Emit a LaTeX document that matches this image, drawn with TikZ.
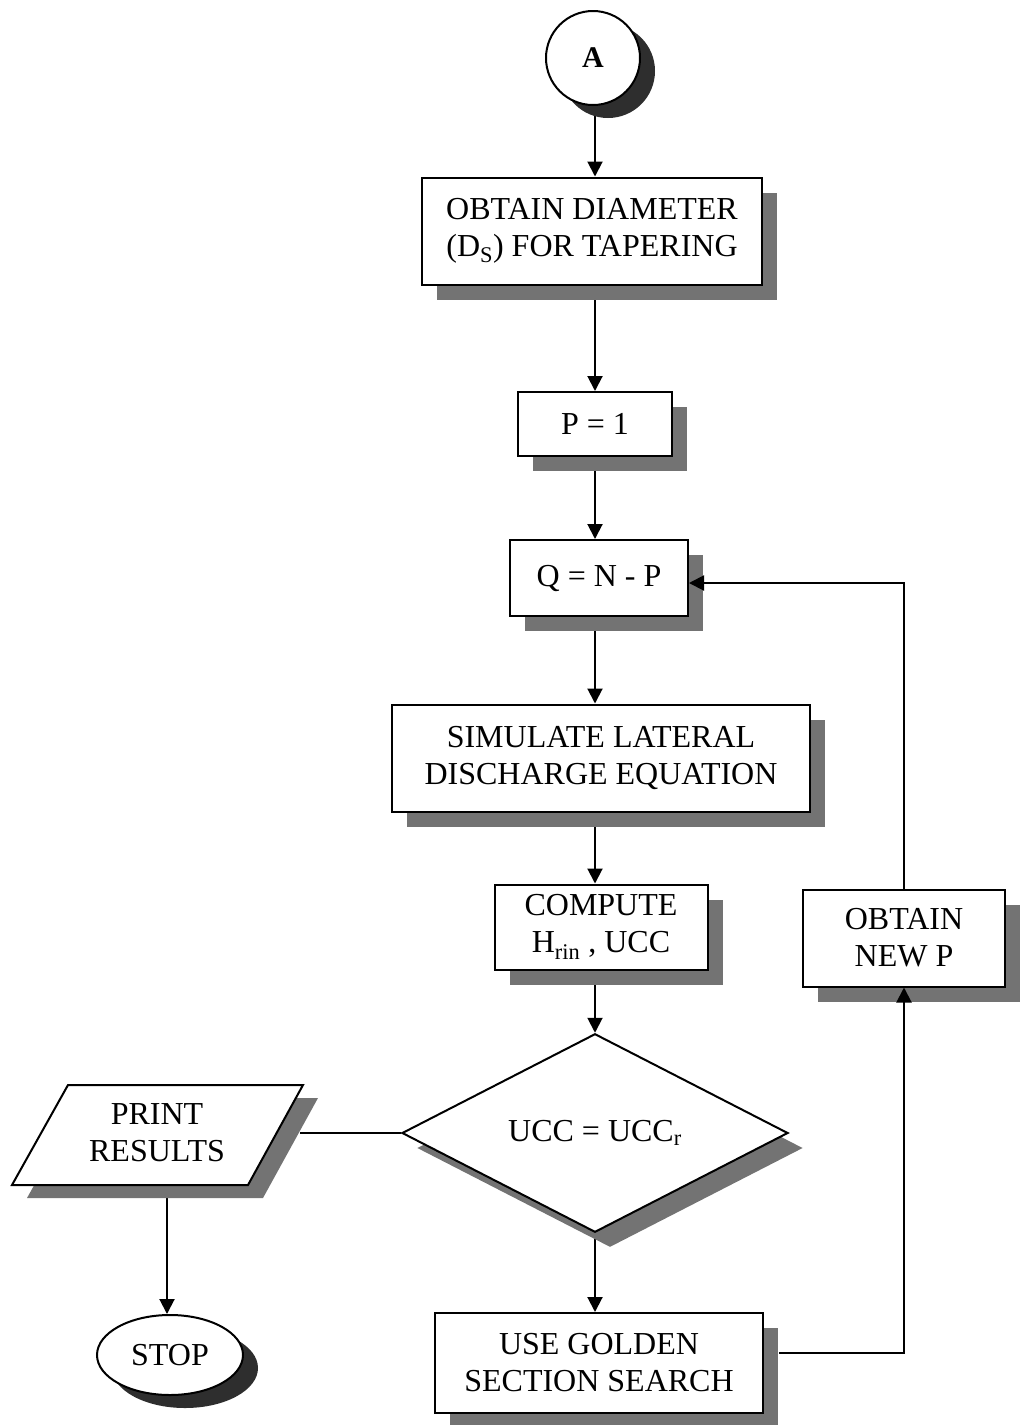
\documentclass[tikz,border=0pt]{standalone}
\usepackage{fontspec}
\setmainfont{Liberation Serif}
\usetikzlibrary{shapes.geometric,shadows,arrows.meta,calc,backgrounds}
\begin{document}
\begin{tikzpicture}[x=1pt,y=-1pt,
  every node/.style={font=\fontsize{32}{37}\selectfont, align=center, inner sep=0pt},
  boxshadow/.style={drop shadow={shadow xshift=15pt,shadow yshift=-15pt,fill=black!55,opacity=1}},
  darkshadow/.style={drop shadow={shadow xshift=15pt,shadow yshift=-13pt,fill=black!82,opacity=1}},
  stepbox/.style={rectangle, draw, line width=2pt, fill=white, boxshadow},
  link/.style={line width=2pt, -{Triangle[length=15pt,width=15pt]}},
  plain/.style={line width=2pt}]
\useasboundingbox (0,0) rectangle (1020,1425);

% axis of the main column
\coordinate (spine) at (595,0);

% terminals
\node[circle, draw, line width=2pt, fill=white, minimum size=94pt, darkshadow,
      font=\fontsize{30}{34}\selectfont\bfseries] (a) at (593,58) {A};
\node[ellipse, draw, line width=2pt, fill=white, minimum width=146pt, minimum height=80pt, darkshadow] (stop) at (170,1355) {STOP};

% process boxes
\node[stepbox, minimum width=340pt, minimum height=107pt] (diam) at (592,231) {OBTAIN DIAMETER\\(D\textsubscript{S}) FOR TAPERING};
\node[stepbox, minimum width=154pt, minimum height=64pt] (pone) at (595,424) {P = 1};
\node[stepbox, minimum width=178pt, minimum height=76pt] (q) at (599,578) {Q = N - P};
\node[stepbox, minimum width=418pt, minimum height=107pt] (sim) at (601,758) {SIMULATE LATERAL\\DISCHARGE EQUATION};
\node[stepbox, minimum width=213pt, minimum height=85pt] (comp) at (601,927) {COMPUTE\\H\textsubscript{rin} , UCC};
\node[stepbox, minimum width=202pt, minimum height=97pt] (newp) at (904,938) {OBTAIN\\NEW P};
\node[stepbox, minimum width=328pt, minimum height=100pt] (gold) at (599,1363) {USE GOLDEN\\SECTION SEARCH};

% decision
\node[diamond, draw, line width=2pt, fill=white, minimum width=386pt, minimum height=172pt, boxshadow] (dec) at (595,1133) {UCC = UCC\textsubscript{r}};

% output parallelogram
\path[draw, line width=2pt, fill=white, drop shadow={shadow xshift=15pt,shadow yshift=-13pt,fill=black!55,opacity=1}]
  (68,1085) -- (303,1085) -- (248,1185) -- (12,1185) -- cycle;
\node (print) at (157,1133) {PRINT\\RESULTS};
\coordinate (prr) at (300,1133);
\coordinate (pb) at (167,1185);

% main flow, kept under the shadows
\begin{scope}[on background layer]
  \draw[link] (spine |- a.south) -- (spine |- diam.north);
  \draw[link] (spine |- diam.south) -- (spine |- pone.north);
  \draw[link] (spine |- pone.south) -- (spine |- q.north);
  \draw[link] (spine |- q.south) -- (spine |- sim.north);
  \draw[link] (spine |- sim.south) -- (spine |- comp.north);
  \draw[link] (spine |- comp.south) -- (dec.north);
  \draw[link] (dec.south) -- (spine |- gold.north);
  \draw[plain] (dec.west) -- (prr);
  \draw[link] (pb) -- (pb |- stop.north);
\end{scope}

% loop back for a new P
\coordinate (gout) at ($(gold.east)+(15,-10)$);
\coordinate (qin) at ($(q.east)+(0,5)$);
\draw[link] (gout) -- (gout -| newp.south) -- (newp.south);
\draw[link] (newp.north) -- (newp.north |- qin) -- (qin);
\end{tikzpicture}
\end{document}
